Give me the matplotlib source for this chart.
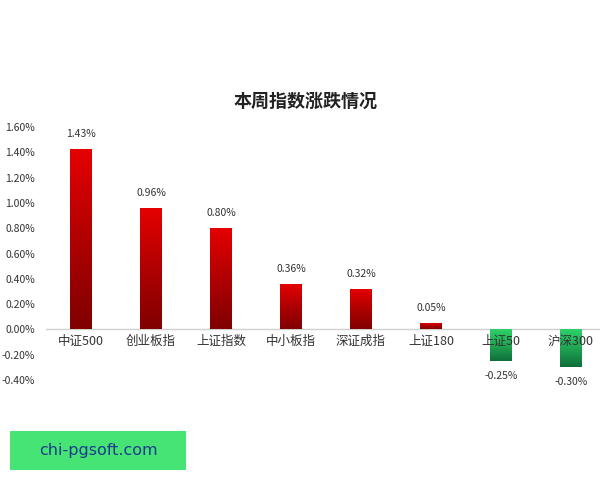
import matplotlib
matplotlib.use('Agg')
import matplotlib.pyplot as plt
import numpy as np
from matplotlib.colors import LinearSegmentedColormap
from matplotlib.patches import Rectangle

plt.rcParams['font.family'] = ['Noto Sans CJK SC', 'DejaVu Sans']

# data (weekly change, %)
categories = ['中证500', '创业板指', '上证指数', '中小板指', '深证成指', '上证180', '上证50', '沪深300']
changes = [1.43, 0.96, 0.80, 0.36, 0.32, 0.05, -0.25, -0.30]
yticks = [-0.4, -0.2, 0.0, 0.2, 0.4, 0.6, 0.8, 1.0, 1.2, 1.4, 1.6]
title = '本周指数涨跌情况'

red_cmap = LinearSegmentedColormap.from_list('red', ['#800000', '#b00000', '#e60000'])
green_cmap = LinearSegmentedColormap.from_list('green', ['#0f6e3a', '#1fa653', '#2fd06a'])

fig = plt.figure(figsize=(6, 4.8), dpi=100)
ax = fig.add_axes([0.0767, 0.2083, 0.933, 0.5271])

bar_w = 0.31
grad = np.linspace(0, 1, 256).reshape(-1, 1)
for i, v in enumerate(changes):
    x0 = i - bar_w / 2
    rect = Rectangle((x0, min(0, v)), bar_w, abs(v), facecolor='none', edgecolor='none')
    ax.add_patch(rect)
    cmap = red_cmap if v >= 0 else green_cmap
    im = ax.imshow(grad, cmap=cmap, origin='lower', aspect='auto',
                   extent=[x0, x0 + bar_w, min(0, v), max(0, v)], zorder=2)
    im.set_clip_path(rect)
    if v >= 0:
        ax.annotate('{:.2f}%'.format(v), (i, v), xytext=(0, 7), textcoords='offset points',
                    ha='center', va='bottom', fontsize=7.5, color='#333333')
    else:
        ax.annotate('{:.2f}%'.format(v), (i, v), xytext=(0, -7), textcoords='offset points',
                    ha='center', va='top', fontsize=7.5, color='#333333')
    ax.annotate(categories[i], (i, 0), xytext=(0, -4), textcoords='offset points',
                ha='center', va='top', fontsize=9, color='#333333', zorder=3)

ax.axhline(0, color='#d0d0d0', lw=1, zorder=1)
ax.set_xlim(-0.5, len(categories) - 0.5)
ax.set_ylim(-0.4, 1.6)
ax.set_yticks(yticks)
ax.set_yticklabels(['{:.2f}%'.format(t) for t in yticks], fontsize=7.5, color='#333333')
ax.tick_params(axis='y', length=0, pad=8)
ax.set_xticks([])
for s in ax.spines.values():
    s.set_visible(False)

fig.text(0.51, 0.79, title, ha='center', va='center', fontsize=13, fontweight='bold', color='#222222')

# watermark box
fig.patches.append(Rectangle((10 / 600, 1 - 470 / 480), 176 / 600, 39 / 480,
                             transform=fig.transFigure, facecolor='#46e475', edgecolor='none'))
fig.text(98 / 600, 1 - 450 / 480, 'chi-pgsoft.com', ha='center', va='center',
         fontsize=11.5, color='#1a3c8c', family='DejaVu Sans')

fig.savefig('out.png', dpi=100, facecolor='white')
